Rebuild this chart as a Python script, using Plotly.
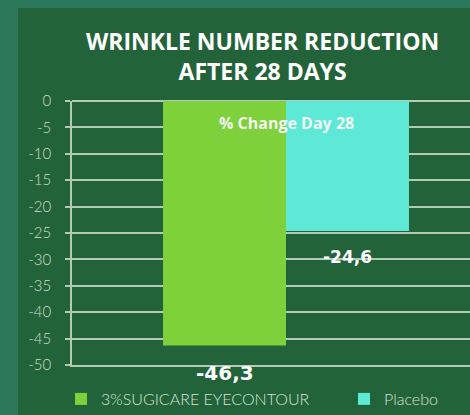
import plotly.graph_objects as go

categories = ["% Change Day 28"]
series_names = ["3%SUGICARE EYECONTOUR", "Placebo"]
series_values = [[-46.3], [-24.6]]
y_ticks = [0, -5, -10, -15, -20, -25, -30, -35, -40, -45, -50]
title_lines = ["WRINKLE NUMBER REDUCTION", "AFTER 28 DAYS"]

colors = ["#7ed13a", "#5ee8d6"]
label_sizes = [20, 17]
legend_x_px = [61, 344]

BARGAP = 0.382
W, H = 470, 415
ML, MR, MT, MB = 72, 0, 101, 50
PW, PH = W - ML - MR, H - MT - MB
GRID = "rgba(215,228,215,0.8)"


def px(x):
    return (x - ML) / PW


def py(y):
    return (H - MB - y) / PH


fig = go.Figure()
for i, (name, vals, col) in enumerate(zip(series_names, series_values, colors)):
    fig.add_trace(go.Bar(x=categories, y=vals, name=name, marker_color=col,
                         marker_line_width=0,
                         legend="legend" if i == 0 else f"legend{i + 1}"))

# data labels below bar ends
gw = 1 - BARGAP
n = len(series_names)
for i, (vals, fs) in enumerate(zip(series_values, label_sizes)):
    for ci, v in enumerate(vals):
        xc = ci - gw / 2 + gw / (2 * n) + i * gw / n
        fig.add_annotation(x=xc, y=v, xref="x", yref="y",
                           text=f"{v:.1f}".replace(".", ","), showarrow=False,
                           yanchor="top", yshift=-14,
                           font=dict(family="DejaVu Sans", size=fs, color="#ffffff", weight=700))

# category label at the zero axis
for ci, c in enumerate(categories):
    fig.add_annotation(x=ci, y=0, xref="x", yref="y", text=c, showarrow=False,
                       yanchor="middle", yshift=-22,
                       font=dict(family="Open Sans", size=16, color="#f2f7f2", weight=700))

fig.add_annotation(x=px(262), y=py(56), xref="paper", yref="paper",
                   text="<br>".join(title_lines), showarrow=False,
                   xanchor="center", yanchor="middle",
                   font=dict(family="Open Sans", size=23, color="#ffffff", weight=700))

# dark-green panel
fig.add_shape(type="rect", xref="paper", yref="paper", x0=px(18), x1=px(480),
              y0=py(425), y1=py(8), fillcolor="#23633a", line_width=0, layer="below")

legend_common = dict(orientation="h", xanchor="left", y=py(399), yanchor="middle",
                     font=dict(family="Lato", size=16, color="#d5e2d5", weight=300),
                     bgcolor="rgba(0,0,0,0)", itemclick=False)

fig.update_layout(
    width=W, height=H,
    margin=dict(l=ML, r=MR, t=MT, b=MB, autoexpand=False),
    paper_bgcolor="#2c7659",
    plot_bgcolor="rgba(0,0,0,0)",
    barmode="group", bargap=BARGAP, bargroupgap=0,
    showlegend=True,
    legend=dict(x=px(legend_x_px[0]), **legend_common),
    legend2=dict(x=px(legend_x_px[1]), **legend_common),
    xaxis=dict(range=[-0.5377, 0.4623], showticklabels=False, showgrid=False,
               zeroline=False, showline=True, linecolor=GRID, linewidth=1.5,
               fixedrange=True),
    yaxis=dict(range=[-50, 0], tickvals=y_ticks, ticktext=[str(t) for t in y_ticks],
               showgrid=True, gridcolor=GRID, gridwidth=1.5,
               zeroline=True, zerolinecolor=GRID, zerolinewidth=1.5,
               showline=True, linecolor=GRID, linewidth=1.5,
               ticks="outside", ticklen=5, tickcolor=GRID, tickwidth=1.5,
               ticklabelstandoff=11,
               tickfont=dict(family="Lato", size=15, color="#cfdccf", weight=300)),
)

fig.write_html("out.html", config={"displayModeBar": False},
               post_script="document.body.style.margin='0';document.body.style.overflow='hidden';")
